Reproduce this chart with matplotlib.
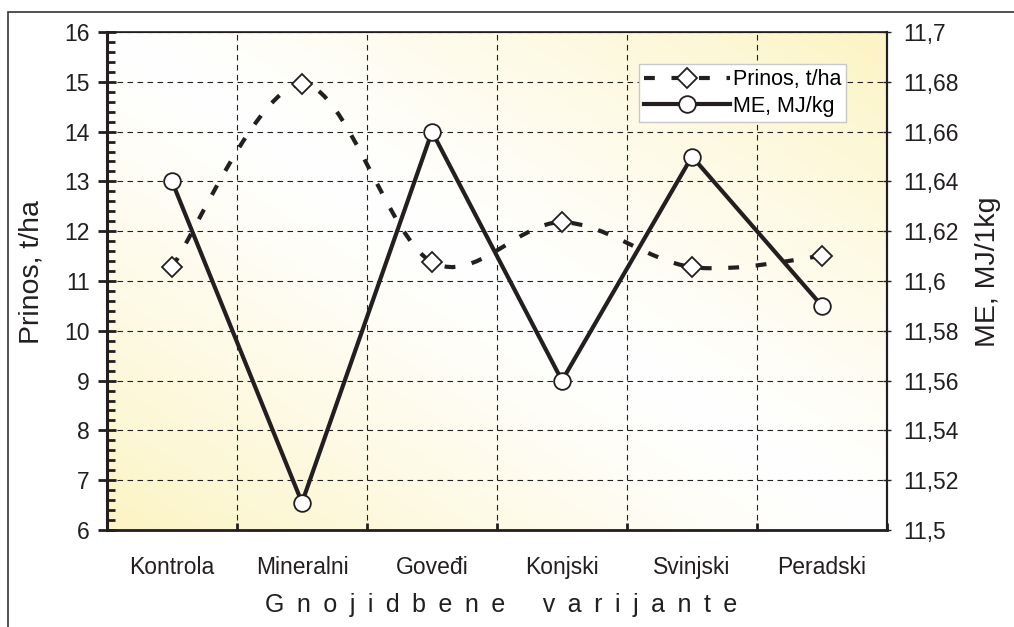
import numpy as np
from matplotlib import pyplot as plt
from matplotlib.path import Path
from matplotlib.patches import PathPatch, Rectangle
from matplotlib.lines import Line2D
from matplotlib.ticker import MultipleLocator, FixedLocator

# Data.
categories = ['Kontrola', 'Mineralni', 'Goveđi', 'Konjski', 'Svinjski', 'Peradski']
prinos = [11.28, 14.95, 11.38, 12.18, 11.28, 11.5]      # t/ha, left axis
me = [11.64, 11.511, 11.66, 11.56, 11.65, 11.59]          # MJ/kg, right axis
me_ticks = [11.5, 11.52, 11.54, 11.56, 11.58, 11.6, 11.62, 11.64, 11.66, 11.68, 11.7]
me_labels = ['11,5', '11,52', '11,54', '11,56', '11,58', '11,6', '11,62',
             '11,64', '11,66', '11,68', '11,7']

ink = '#231f20'
plt.rcParams['font.family'] = ['Liberation Sans', 'DejaVu Sans']

fig = plt.figure(figsize=(10.14, 6.27), dpi=100)
ax = fig.add_axes([107/1014, 1-530/627, 780/1014, 498/627])
x = np.arange(len(categories))

# Background gradient: yellow in bottom-left and top-right corners.
u, v = np.meshgrid(np.linspace(0, 1, 300), np.linspace(0, 1, 200))
w = np.abs(u + v - 1) ** 1.25
yellow = np.array([252, 244, 196]) / 255.0
img = (1 - w[..., None]) * np.ones(3) + w[..., None] * yellow
ax.imshow(img, origin='lower', extent=(0, 1, 0, 1), transform=ax.transAxes,
          aspect='auto', zorder=0, interpolation='bilinear')

# Smoothed dashed line for Prinos (Catmull-Rom as cubic beziers).
pts = np.column_stack([x, prinos]).astype(float)
ext = np.vstack([pts[0], pts, pts[-1]])
verts = [pts[0]]
codes = [Path.MOVETO]
for i in range(len(pts) - 1):
    p0, p1, p2, p3 = ext[i], ext[i+1], ext[i+2], ext[i+3]
    verts += [p1 + (p2 - p0) / 6.0, p2 - (p3 - p1) / 6.0, p2]
    codes += [Path.CURVE4] * 3
dash = (0, (2.6, 4.0))
ax.add_patch(PathPatch(Path(verts, codes), fill=False, lw=3, edgecolor=ink,
                       linestyle=dash, capstyle='butt', zorder=2))
ax.plot(x, prinos, linestyle='none', marker='D', ms=10, mfc='white',
        mec=ink, mew=1.3, zorder=3)

ax.set_xlim(-0.5, 5.5)
ax.set_ylim(6, 16)
ax.yaxis.set_major_locator(MultipleLocator(1))
ax.yaxis.set_minor_locator(MultipleLocator(0.2))
ax.set_xticks(x)
ax.set_xticklabels(categories, fontsize=16.5, color=ink)
ax.xaxis.set_minor_locator(FixedLocator(np.arange(-0.5, 6, 1)))
ax.tick_params(axis='x', which='major', length=0, pad=19)
ax.tick_params(axis='x', which='minor', direction='in', length=5, width=2, color=ink)
ax.tick_params(axis='y', which='major', direction='inout', length=13, width=2,
               color=ink, labelsize=16.5, labelcolor=ink, pad=6)
ax.tick_params(axis='y', which='minor', direction='in', length=6, width=2, color=ink)
ax.grid(True, axis='y', which='major', color=ink, linestyle=(0, (5, 4)), linewidth=0.8)
ax.grid(True, axis='x', which='minor', color=ink, linestyle=(0, (5, 4)), linewidth=0.8)
ax.spines['left'].set_linewidth(2.2)
ax.spines['bottom'].set_linewidth(2)
ax.spines['top'].set_linewidth(1.2)
ax.spines['right'].set_linewidth(1.5)
for s in ax.spines.values():
    s.set_color(ink)

# Right axis for ME.
ax2 = ax.twinx()
ax2.plot(x, me, color=ink, lw=3, marker='o', ms=12, mfc='white', mec=ink,
         mew=1.3, zorder=3)
ax2.set_ylim(11.5, 11.7)
ax2.set_yticks(me_ticks)
ax2.set_yticklabels(me_labels)
ax2.tick_params(axis='y', direction='inout', length=6, width=1, color=ink,
                labelsize=16.5, labelcolor=ink, pad=9)
ax2.spines['right'].set_linewidth(1.5)
for s in ax2.spines.values():
    s.set_color(ink)

# Legend.
h1 = Line2D([], [], color=ink, lw=3, linestyle=dash, marker='D', ms=10,
            mfc='white', mec=ink, mew=1.3)
h2 = Line2D([], [], color=ink, lw=3, marker='o', ms=12, mfc='white', mec=ink, mew=1.3)
leg = ax2.legend([h1, h2], ['Prinos, t/ha', 'ME, MJ/kg'], loc='upper left',
                 bbox_to_anchor=(639/1014, 1-64/627), bbox_transform=fig.transFigure,
                 fontsize=15.5, frameon=True, fancybox=False, framealpha=1,
                 edgecolor='#c8c8c8', handlelength=4.0, handletextpad=0.1,
                 borderpad=0.25, borderaxespad=0, labelspacing=0.25)
leg.get_frame().set_linewidth(1)

# Axis titles.
fig.text(32/1014, 1-272/627, 'Prinos, t/ha', rotation=90, ha='center', va='center',
         fontsize=20.5, color=ink)
fig.text(988/1014, 1-272/627, 'ME, MJ/1kg', rotation=90, ha='center', va='center',
         fontsize=20.5, color=ink)
fig.text(501/1014, 1-605/627,
         '\u2002'.join('Gnojidbene') + '\u2002\u2002\u2002' + '\u2002'.join('varijante'),
         ha='center', va='center', fontsize=18, color=ink)

# Outer frame.
fig.add_artist(Rectangle((8/1014, -0.1), 1.2, 1.1 - 12/627, transform=fig.transFigure,
                         fill=False, edgecolor='#333333', linewidth=1.2))

plt.savefig('out.png', dpi=100)
